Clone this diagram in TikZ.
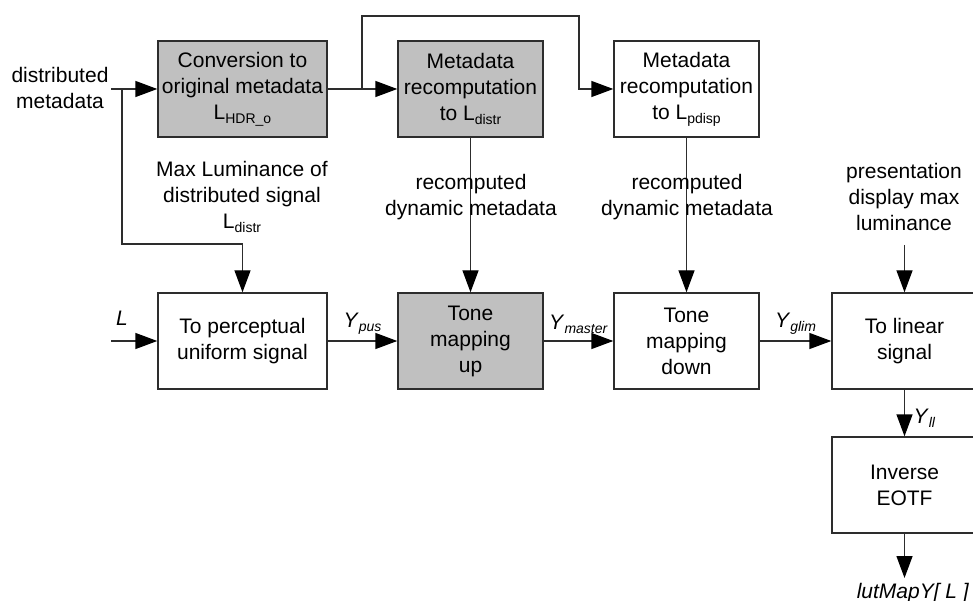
\documentclass[tikz,border=0pt]{standalone}
\usepackage{fontspec}
\setmainfont{Liberation Sans}
\usetikzlibrary{arrows.meta, calc}
\definecolor{boxgray}{RGB}{192,192,192}
\definecolor{linegray}{RGB}{45,45,45}
\newcommand{\subtxt}[1]{\raisebox{-0.35ex}{\fontsize{14}{14}\selectfont #1}}

\tikzset{
	blk/.style={draw=linegray, line width=1.4pt, minimum width=145pt, minimum height=96pt, inner sep=0pt, align=center},
	wideblk/.style={blk, minimum width=169pt},
	shaded/.style={fill=boxgray},
	txt/.style={align=center},
	wire/.style={draw=linegray, line width=1.4pt},
	flow/.style={wire, -{Triangle[length=22pt, width=16pt, color=black]}},
}

\begin{document}
\begin{tikzpicture}[x=1pt, y=-1pt, font=\fontsize{21}{26}\selectfont]
	\useasboundingbox (0,0) rectangle (973,601);

	\node [wideblk, shaded] (B1) at (242.5,89) {Conversion to\\original metadata\\L\subtxt{HDR\_o}};
	\node [blk, shaded] (B2) at (470.5,89) {Metadata\\recomputation\\to L\subtxt{distr}};
	\node [blk] (B3) at (686.5,89) {Metadata\\recomputation\\to L\subtxt{pdisp}};
	\node [wideblk] (B4) at (242.5,341) {To perceptual\\uniform signal};
	\node [blk, shaded] (B5) at (470.5,341) {Tone\\mapping\\up};
	\node [blk] (B6) at (686.5,341) {Tone\\mapping\\down};
	\node [blk] (B7) at (904.5,341) {To linear\\signal};
	\node [blk] (B8) at (904.5,485) {Inverse\\EOTF};

	\node [txt] (NDist) at (60,88) {distributed\\metadata};
	\coordinate (C0) at (111,89);
	\coordinate (J1) at (122,89);
	\coordinate (K1) at (242.5,244);
	\draw [flow] (C0) -- (B1);
	\draw [flow] (J1) |- (K1) -- (B4);
	\node [txt] (NMax) at (242,197) {Max Luminance of\\distributed signal\\L\subtxt{distr}};

	\coordinate (J2) at (362,89);
	\coordinate (K2) at (579,16);
	\draw [flow] (B1) -- (B2);
	\draw [flow] (J2) |- (K2) |- (B3);

	\draw [flow] (B2) -- (B5);
	\draw [flow] (B3) -- (B6);
	\node [txt] (NRec1) at (471,197) {recomputed\\dynamic metadata};
	\node [txt] (NRec2) at (687,197) {recomputed\\dynamic metadata};

	\coordinate (C1) at (111,341);
	\draw [flow] (C1) -- (B4);
	\node (NL) at (122,318) {\textit{L}};

	\draw [flow] (B4) -- (B5) node [midway, above=3pt] {\textit{Y}\subtxt{\textit{pus}}};
	\draw [flow] (B5) -- (B6) node [midway, above=3pt] {\textit{Y}\subtxt{\textit{master}}};
	\draw [flow] (B6) -- (B7) node [midway, above=3pt] {\textit{Y}\subtxt{\textit{glim}}};

	\node [txt] (NPres) at (904,197) {presentation\\display max\\luminance};
	\coordinate (K3) at (904.5,245);
	\draw [flow] (K3) -- (B7);

	\draw [flow] (B7) -- (B8) node [midway, right, xshift=5pt, yshift=-5pt] {\textit{Y}\subtxt{\textit{ll}}};

	\coordinate (K4) at (904.5,578);
	\draw [flow] (B8) -- (K4);
	\node (NOut) at (913,593) {\textit{lutMapY[ L ]}};

\end{tikzpicture}
\end{document}
